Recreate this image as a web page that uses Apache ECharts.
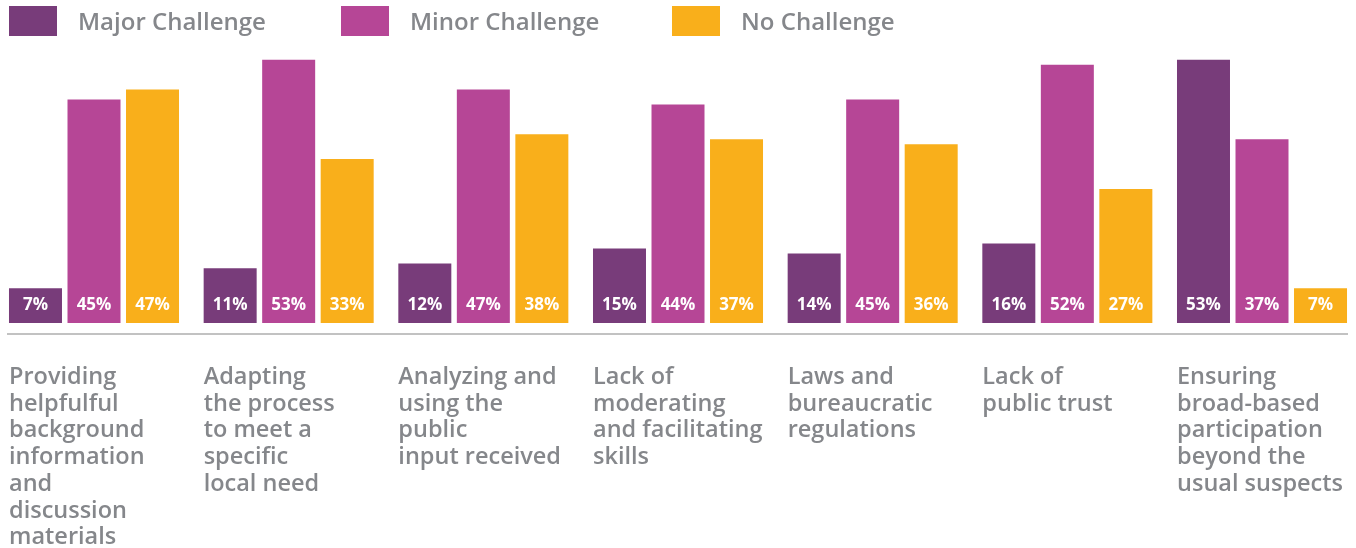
<!DOCTYPE html>
<html>
<head>
<meta charset="utf-8">
<script src="https://cdn.jsdelivr.net/npm/echarts@6/dist/echarts.min.js"></script>
<style>
html,body{margin:0;padding:0;background:#fff;overflow:hidden;width:1356px;height:548px;}
#chart{position:absolute;left:-10px;top:0;width:1376px;height:548px;}
</style>
</head>
<body>
<div id="chart"></div>
<script>
const categories = [
  "Providing\nhelpfulful\nbackground\ninformation\nand\ndiscussion\nmaterials",
  "Adapting\nthe process\nto meet a\nspecific\nlocal need",
  "Analyzing and\nusing the\npublic\ninput received",
  "Lack of\nmoderating\nand facilitating\nskills",
  "Laws and\nbureaucratic\nregulations",
  "Lack of\npublic trust",
  "Ensuring\nbroad-based\nparticipation\nbeyond the\nusual suspects"
];
const seriesNames = ["Major Challenge", "Minor Challenge", "No Challenge"];
const majorChallenge = [7, 11, 12, 15, 14, 16, 53];
const minorChallenge = [45, 53, 47, 44, 45, 52, 37];
const noChallenge = [47, 33, 38, 37, 36, 27, 7];

const colors = ["#783c7a", "#b64696", "#f9af1b"];
const FONT = "'Open Sans', 'Noto Sans', sans-serif";
const GRAY = "#85878b";
const OX = 10; // chart div is shifted 10px left of the page

const chart = echarts.init(document.getElementById('chart'), null, {renderer: 'canvas'});

function legendFor(name, left) {
  return {
    show: true,
    data: [name],
    left: left + OX,
    top: 6,
    padding: 0,
    icon: 'rect',
    itemWidth: 48,
    itemHeight: 30,
    selectedMode: false,
    formatter: n => '{t|' + n + '}',
    textStyle: {
      color: GRAY, fontFamily: FONT, fontSize: 24, fontWeight: 600,
      padding: [0, 0, 0, 16],
      rich: {
        t: {
          color: GRAY, fontFamily: FONT, fontSize: 24, fontWeight: 600,
          padding: [5, 0, 0, 0]
        }
      }
    }
  };
}

function makeSeries(name, data, color) {
  return {
    name: name,
    type: 'bar',
    data: data,
    barWidth: 53,
    barGap: '10.4%',
    itemStyle: {color: color},
    label: {
      show: true,
      position: 'insideBottom',
      distance: 9,
      formatter: '{c}%',
      color: '#ffffff',
      fontFamily: FONT,
      fontSize: 17,
      fontWeight: 700
    },
    emphasis: {disabled: true},
    animation: false
  };
}

const option = {
  animation: false,
  legend: [
    legendFor(seriesNames[0], 9),
    legendFor(seriesNames[1], 341),
    legendFor(seriesNames[2], 672)
  ],
  grid: {left: OX - 3.33, width: 1362.67, top: 25, height: 298, containLabel: false, outerBoundsMode: 'none'},
  xAxis: {
    type: 'category',
    data: categories,
    axisLine: {show: false},
    axisTick: {show: false},
    axisLabel: {
      interval: 0,
      margin: 41,
      formatter: v => '{a|' + v + '}',
      rich: {
        a: {
          width: 170,
          align: 'left',
          color: GRAY,
          fontFamily: FONT,
          fontSize: 23.5,
          fontWeight: 600,
          lineHeight: 26.7
        }
      }
    }
  },
  yAxis: {
    type: 'value',
    min: 0,
    max: 60,
    show: false,
    splitLine: {show: false}
  },
  series: [
    makeSeries(seriesNames[0], majorChallenge, colors[0]),
    makeSeries(seriesNames[1], minorChallenge, colors[1]),
    makeSeries(seriesNames[2], noChallenge, colors[2])
  ],
  graphic: [{
    type: 'line',
    shape: {x1: 7 + OX, y1: 334, x2: 1348 + OX, y2: 334},
    style: {stroke: '#c2c2c2', lineWidth: 2},
    silent: true
  }]
};
chart.setOption(option);
</script>
</body>
</html>
